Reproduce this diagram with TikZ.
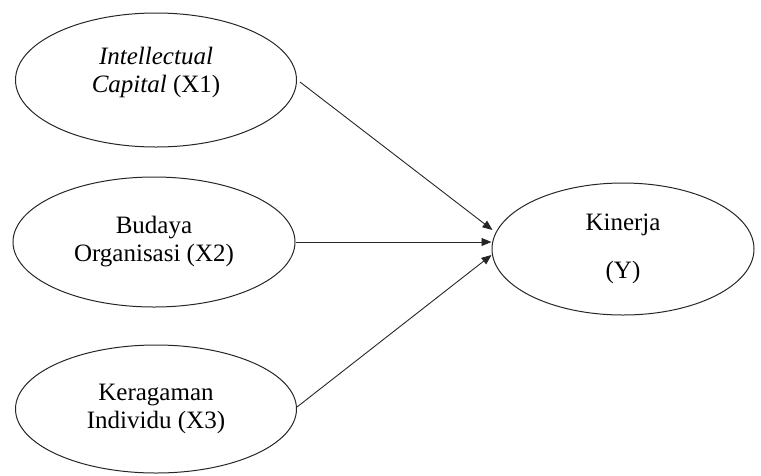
\documentclass[tikz,border=0pt]{standalone}
\usepackage{fontspec}
\setmainfont{Liberation Serif}
\usetikzlibrary{shapes.geometric,arrows.meta,calc}
\begin{document}
\begin{tikzpicture}[x=1pt,y=-1pt,
  var/.style={draw=black!85, ellipse, line width=1pt, inner sep=0pt, align=center,
    font=\fontsize{25}{28}\selectfont},
  conn/.style={draw=black!85, line width=0.9pt, -{Triangle[length=10pt,width=8pt]}}]
\useasboundingbox (0,0) rectangle (761,475);
\node[var, minimum width=281pt, minimum height=134pt] (x1) at (156,80) {\textit{Intellectual}\\\textit{Capital} (X1)\\[-8pt]\mbox{}};
\node[var, minimum width=282pt, minimum height=130pt] (x2) at (154,242) {Budaya\\Organisasi (X2)};
\node[var, minimum width=281pt, minimum height=128pt] (x3) at (156,409) {Keragaman\\Individu (X3)};
\node[var, minimum width=262pt, minimum height=132pt] (y) at (623,249) {Kinerja\\[20pt](Y)};
\coordinate (t1) at ($(y.west)+(1,-19)$);
\coordinate (t2) at ($(y.west)+(0,-7)$);
\coordinate (t3) at ($(y.west)+(0,6)$);
\draw[conn] ($(x1.east)+(3,2)$) -- (t1);
\draw[conn] (x2.east) -- (t2);
\draw[conn] ($(x3.east)+(0,-2)$) -- (t3);
\end{tikzpicture}
\end{document}
